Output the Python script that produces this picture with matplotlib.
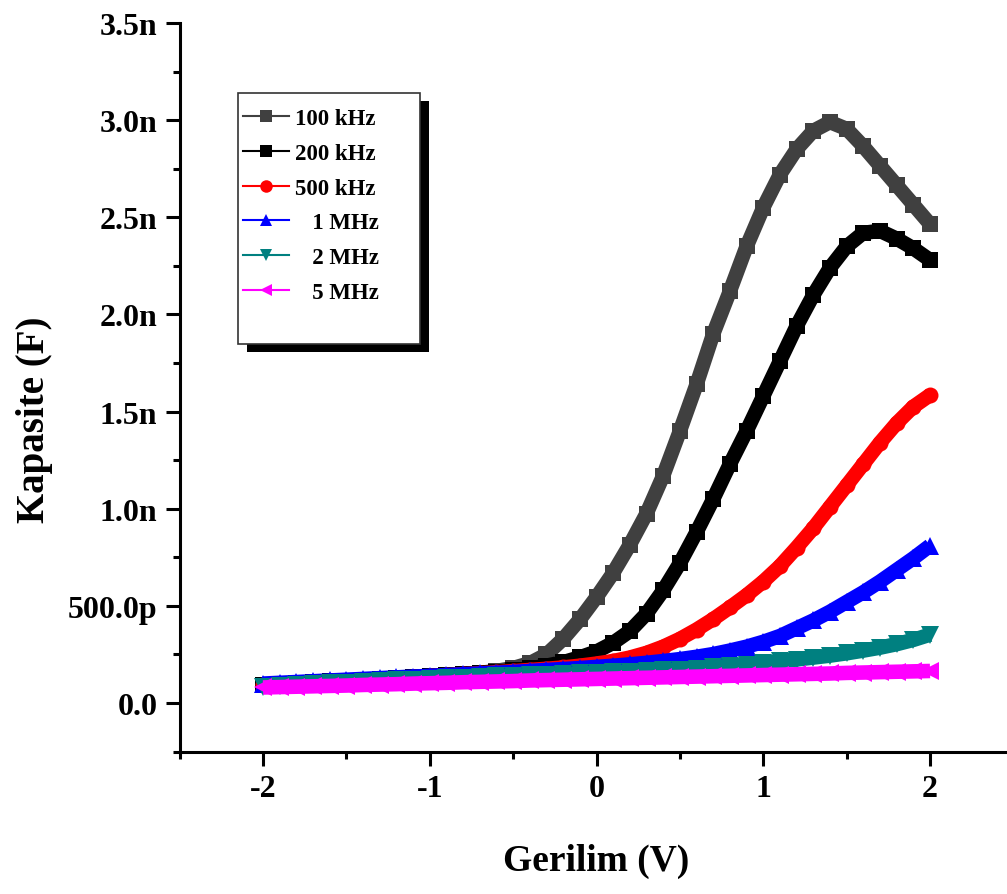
import matplotlib
matplotlib.use("Agg")
import matplotlib.pyplot as plt
from matplotlib.lines import Line2D
from matplotlib.patches import Rectangle
from matplotlib.ticker import MultipleLocator, FixedLocator, FixedFormatter

plt.rcParams["font.family"] = ["Liberation Serif", "DejaVu Serif"]
plt.rcParams["font.weight"] = "bold"
plt.rcParams["axes.unicode_minus"] = False

# Gerilim (V)
voltage = [-2.0, -1.9, -1.8, -1.7, -1.6, -1.5, -1.4, -1.3, -1.2, -1.1,
           -1.0, -0.9, -0.8, -0.7, -0.6, -0.5, -0.4, -0.3, -0.2, -0.1,
           0.0, 0.1, 0.2, 0.3, 0.4, 0.5, 0.6, 0.7, 0.8, 0.9,
           1.0, 1.1, 1.2, 1.3, 1.4, 1.5, 1.6, 1.7, 1.8, 1.9, 2.0]

# Kapasite (nF)
c_100k = [0.095, 0.099, 0.103, 0.107, 0.111, 0.115, 0.119, 0.124, 0.128, 0.133,
          0.138, 0.143, 0.149, 0.155, 0.165, 0.180, 0.205, 0.250, 0.330, 0.430,
          0.545, 0.670, 0.815, 0.975, 1.170, 1.400, 1.640, 1.900, 2.120, 2.350,
          2.550, 2.720, 2.850, 2.945, 2.990, 2.955, 2.865, 2.765, 2.665, 2.565, 2.465]
c_200k = [0.095, 0.099, 0.103, 0.107, 0.111, 0.115, 0.119, 0.124, 0.128, 0.133,
          0.138, 0.143, 0.148, 0.154, 0.160, 0.168, 0.178, 0.192, 0.210, 0.235,
          0.265, 0.310, 0.370, 0.460, 0.580, 0.720, 0.880, 1.050, 1.230, 1.400,
          1.580, 1.760, 1.940, 2.100, 2.240, 2.350, 2.420, 2.430, 2.390, 2.340, 2.280]
c_500k = [0.095, 0.099, 0.103, 0.107, 0.111, 0.115, 0.119, 0.124, 0.128, 0.133,
          0.138, 0.143, 0.148, 0.153, 0.158, 0.164, 0.170, 0.176, 0.183, 0.192,
          0.203, 0.216, 0.234, 0.258, 0.290, 0.330, 0.378, 0.432, 0.492, 0.555,
          0.625, 0.705, 0.800, 0.900, 1.010, 1.120, 1.230, 1.340, 1.440, 1.525, 1.585]
c_1m = [0.100, 0.104, 0.108, 0.112, 0.116, 0.120, 0.124, 0.128, 0.132, 0.136,
        0.140, 0.144, 0.148, 0.152, 0.156, 0.160, 0.165, 0.170, 0.175, 0.180,
        0.186, 0.192, 0.199, 0.207, 0.216, 0.226, 0.238, 0.252, 0.270, 0.290,
        0.315, 0.345, 0.385, 0.425, 0.470, 0.520, 0.570, 0.625, 0.685, 0.745, 0.810]
c_2m = [0.085, 0.089, 0.093, 0.097, 0.101, 0.105, 0.109, 0.113, 0.117, 0.121,
        0.125, 0.128, 0.131, 0.134, 0.137, 0.140, 0.143, 0.146, 0.149, 0.152,
        0.155, 0.158, 0.161, 0.164, 0.168, 0.172, 0.177, 0.183, 0.190, 0.198,
        0.206, 0.215, 0.224, 0.234, 0.244, 0.256, 0.270, 0.285, 0.303, 0.325, 0.352]
c_5m = [0.080, 0.082, 0.084, 0.086, 0.088, 0.090, 0.093, 0.095, 0.097, 0.100,
        0.102, 0.104, 0.107, 0.109, 0.111, 0.113, 0.116, 0.118, 0.120, 0.122,
        0.124, 0.126, 0.128, 0.130, 0.132, 0.134, 0.136, 0.138, 0.140, 0.142,
        0.144, 0.146, 0.148, 0.150, 0.152, 0.155, 0.157, 0.159, 0.161, 0.163, 0.165]

labels = ["100 kHz", "200 kHz", "500 kHz", "   1 MHz", "   2 MHz", "   5 MHz"]
colors = ["#404040", "#000000", "#ff0000", "#0000ff", "#008080", "#ff00ff"]
markers = ["s", "s", "o", "^", "v", "<"]
msizes = [11, 11, 11.5, 13, 13, 13.5]

ytick_vals = [0.0, 0.5, 1.0, 1.5, 2.0, 2.5, 3.0, 3.5]
ytick_labels = ["0.0", "500.0p", "1.0n", "1.5n", "2.0n", "2.5n", "3.0n", "3.5n"]
xtick_vals = [-2, -1, 0, 1, 2]

W, H = 1007, 895
fig = plt.figure(figsize=(W / 100, H / 100), dpi=100)
ax = fig.add_axes([179.6 / W, (H - 752.6) / H, 833.8 / W, 728.6 / H])

series = [c_100k, c_200k, c_500k, c_1m, c_2m, c_5m]
for ys, col, mk, ms in zip(series, colors, markers, msizes):
    ax.plot(voltage, ys, color=col, lw=10.5, marker=mk, ms=ms,
            markeredgewidth=0, solid_capstyle="butt", solid_joinstyle="round")

ax.set_xlim(-2.5, 2.5)
ax.set_ylim(-0.25, 3.5)

for s in ["top", "right"]:
    ax.spines[s].set_visible(False)
for s in ["left", "bottom"]:
    ax.spines[s].set_linewidth(2.2)

ax.xaxis.set_major_locator(FixedLocator(xtick_vals))
ax.xaxis.set_minor_locator(MultipleLocator(0.5))
ax.yaxis.set_major_locator(FixedLocator(ytick_vals))
ax.yaxis.set_major_formatter(FixedFormatter(ytick_labels))
ax.yaxis.set_minor_locator(MultipleLocator(0.25))

ax.tick_params(which="major", direction="out", length=10, width=2.2,
               labelsize=23, pad=6)
ax.tick_params(which="minor", direction="out", length=5, width=2.2)
for lab in ax.get_xticklabels() + ax.get_yticklabels():
    lab.set_fontweight("bold")

ax.set_xlabel("Gerilim (V)", fontsize=27, fontweight="bold")
ax.set_ylabel("Kapasite (F)", fontsize=28, fontweight="bold")
ax.xaxis.set_label_coords(0.5, -0.125)
ax.yaxis.set_label_coords(-0.152, 0.4565)

# legend box with drop shadow
bx0, by0, bx1, by1 = 238, 94, 420, 345
shadow = Rectangle(((bx0 + 9) / W, (H - by1 - 8) / H), (bx1 - bx0) / W,
                   (by1 - by0) / H, transform=fig.transFigure,
                   facecolor="black", edgecolor="none", zorder=2)
box = Rectangle((bx0 / W, (H - by1) / H), (bx1 - bx0) / W, (by1 - by0) / H,
                transform=fig.transFigure, facecolor="white",
                edgecolor="#333333", lw=1.2, zorder=3)
fig.add_artist(shadow)
fig.add_artist(box)

handles = [Line2D([], [], color=c, lw=1.5, marker=m, ms=9, markeredgewidth=0)
           for c, m in zip(colors, markers)]
fig.legend(handles, labels, loc="upper left",
           bbox_to_anchor=(243 / W, 1 - 109 / H), frameon=False,
           prop={"family": "Liberation Serif", "weight": "bold", "size": 16.5},
           handlelength=2.0, handletextpad=0.25, labelspacing=0.6,
           borderpad=0, borderaxespad=0)

fig.savefig("out.png", dpi=100)
